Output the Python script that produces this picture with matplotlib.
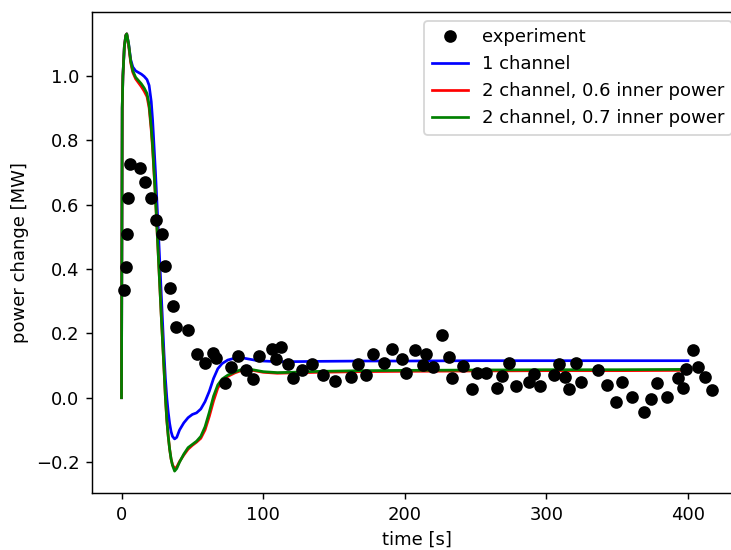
import matplotlib
matplotlib.use("Agg")
import matplotlib.pyplot as plt

# experiment data
exp_t = [1.8, 3.2, 3.9, 4.6, 6.0, 13.1, 16.6, 20.8, 24.4, 28.6, 30.7, 34.3, 36.4, 38.5,
         47.0, 53.4, 59.0, 64.7, 66.8, 73.1, 77.4, 82.3, 88.0, 92.9, 97.2, 106.4, 109.2,
         112.7, 117.7, 121.2, 127.6, 134.6, 142.4, 150.9, 162.2, 167.1, 172.8, 177.7,
         185.5, 191.2, 198.2, 201.1, 207.4, 213.1, 215.2, 220.1, 226.5, 231.4, 233.6,
         241.3, 247.7, 251.2, 257.6, 265.4, 268.9, 273.9, 278.8, 288.0, 291.5, 295.8,
         305.7, 309.2, 313.4, 316.3, 321.2, 324.7, 336.7, 343.1, 349.5, 353.7, 360.8,
         368.6, 374.2, 378.4, 385.5, 392.6, 396.8, 398.9, 403.2, 407.4, 411.7, 416.6]
exp_p = [0.334, 0.405, 0.510, 0.621, 0.726, 0.714, 0.671, 0.621, 0.553, 0.507, 0.408,
         0.340, 0.284, 0.219, 0.210, 0.136, 0.108, 0.139, 0.124, 0.046, 0.096, 0.130,
         0.087, 0.059, 0.130, 0.151, 0.121, 0.158, 0.105, 0.062, 0.087, 0.105, 0.071,
         0.053, 0.065, 0.105, 0.071, 0.136, 0.108, 0.151, 0.121, 0.077, 0.148, 0.102,
         0.136, 0.096, 0.195, 0.127, 0.062, 0.099, 0.028, 0.077, 0.077, 0.031, 0.068,
         0.108, 0.037, 0.049, 0.074, 0.037, 0.071, 0.105, 0.065, 0.028, 0.108, 0.049,
         0.087, 0.040, -0.012, 0.049, 0.003, -0.043, -0.003, 0.046, 0.003, 0.062,
         0.031, 0.090, 0.148, 0.096, 0.065, 0.025]

# model curves
model_t = [0, 0.5, 1, 2, 3, 3.7, 5, 6.5, 8, 10, 12, 14, 16, 18, 19.5, 21, 22, 24, 26,
           28, 30, 31, 32, 33, 34, 35, 36, 37.5, 39, 41, 44, 47, 50, 53, 56, 59, 62,
           65, 68, 71, 75, 80, 85, 90, 95, 100, 110, 120, 140, 170, 200, 250, 300,
           350, 400]
p_1ch = [0, 0.90, 1.0, 1.09, 1.125, 1.13, 1.10, 1.05, 1.027, 1.015, 1.01, 1.005,
         0.998, 0.988, 0.97, 0.92, 0.86, 0.70, 0.52, 0.33, 0.14, 0.06, 0.0, -0.045,
         -0.08, -0.105, -0.12, -0.128, -0.123, -0.10, -0.078, -0.062, -0.052, -0.047,
         -0.035, -0.012, 0.02, 0.06, 0.09, 0.106, 0.117, 0.123, 0.124, 0.12, 0.116,
         0.114, 0.112, 0.112, 0.113, 0.114, 0.114, 0.115, 0.115, 0.115, 0.115]
p_2ch_06 = [0, 0.90, 1.0, 1.09, 1.125, 1.13, 1.095, 1.04, 1.01, 0.99, 0.978, 0.966,
            0.952, 0.935, 0.90, 0.83, 0.77, 0.62, 0.44, 0.26, 0.09, 0.0, -0.07, -0.12,
            -0.16, -0.19, -0.208, -0.22, -0.215, -0.198, -0.178, -0.16, -0.148, -0.138,
            -0.126, -0.10, -0.058, -0.01, 0.03, 0.052, 0.066, 0.077, 0.085, 0.087,
            0.083, 0.079, 0.076, 0.077, 0.079, 0.081, 0.082, 0.083, 0.084, 0.084, 0.085]
p_2ch_07 = [0, 0.90, 1.0, 1.09, 1.125, 1.13, 1.10, 1.045, 1.015, 0.995, 0.985, 0.975,
            0.962, 0.945, 0.91, 0.84, 0.78, 0.62, 0.44, 0.26, 0.09, 0.0, -0.07, -0.12,
            -0.16, -0.19, -0.21, -0.228, -0.22, -0.20, -0.175, -0.155, -0.145, -0.135,
            -0.12, -0.09, -0.045, 0.005, 0.04, 0.058, 0.07, 0.08, 0.088, 0.089, 0.085,
            0.081, 0.078, 0.079, 0.082, 0.084, 0.085, 0.086, 0.087, 0.087, 0.088]

fig = plt.figure(figsize=(731 / 130, 550 / 130), dpi=130)
ax = fig.add_axes([92 / 731, 57 / 550, 649 / 731, 481 / 550])

ax.plot(exp_t, exp_p, 'ko', label='experiment', zorder=3)
ax.plot(model_t, p_1ch, 'b-', label='1 channel')
ax.plot(model_t, p_2ch_06, 'r-', label='2 channel, 0.6 inner power')
ax.plot(model_t, p_2ch_07, 'g-', label='2 channel, 0.7 inner power')

ax.set_xlabel('time [s]')
ax.set_ylabel('power change [MW]')
ax.legend(loc='upper right')

fig.savefig('out.png', dpi=130)
